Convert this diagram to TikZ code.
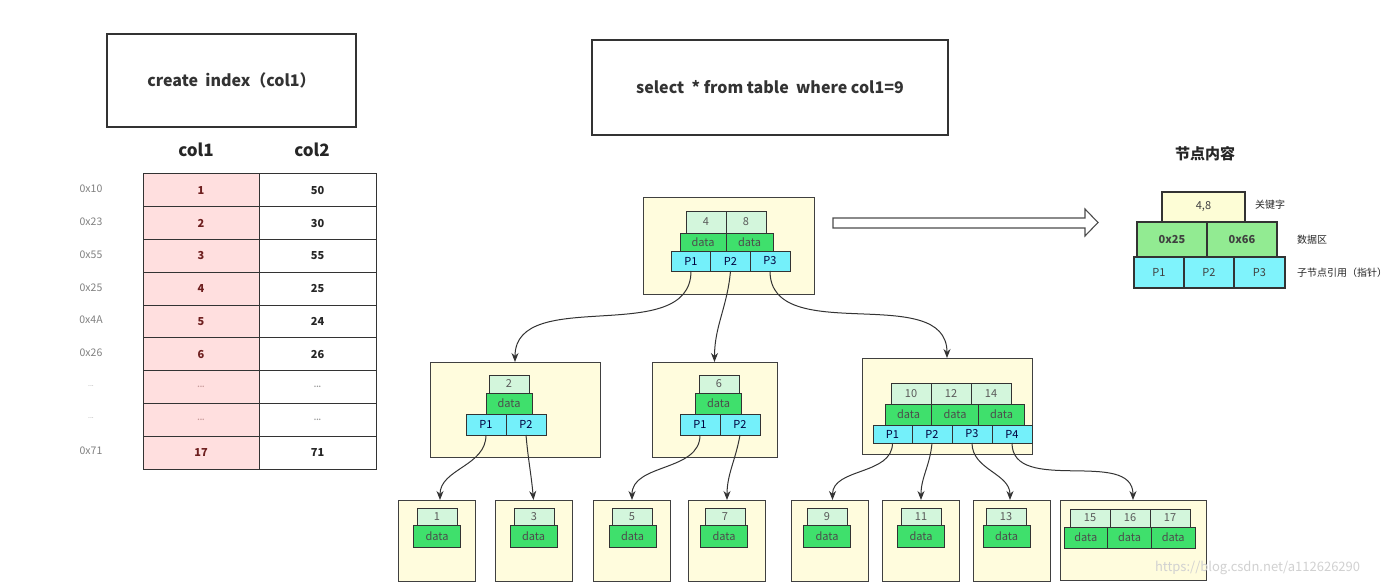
\documentclass[tikz,border=0pt]{standalone}
\usepackage{fontspec}
\setmainfont{Noto Sans CJK SC}
\usetikzlibrary{arrows.meta}
\definecolor{nodebg}{HTML}{FFFCDD}
\definecolor{keyg}{HTML}{D3F6DC}
\definecolor{datag}{HTML}{3FE06C}
\definecolor{ptrcy}{HTML}{74F0FA}
\definecolor{pinkc}{HTML}{FFDFDF}
\definecolor{redtxt}{HTML}{6E1F1F}
\definecolor{lgkey}{HTML}{FDFDD6}
\definecolor{lgdata}{HTML}{92EB92}
\definecolor{lgptr}{HTML}{7FF3FC}
\begin{document}
\begin{tikzpicture}[x=1pt,y=-1pt,
  every node/.style={inner sep=0pt, outer sep=0pt},
  sqlbox/.style={draw=black!80, line width=1.1pt, fill=white, text=black!80, font=\fontsize{16}{19}\selectfont\bfseries},
  hdr/.style={text=black!85, font=\fontsize{17}{20}\selectfont\bfseries},
  addr/.style={text=black!50, font=\fontsize{10.5}{12}\selectfont},
  tcell/.style={draw=black!80, line width=1pt, minimum height=32.8, font=\fontsize{11}{12}\selectfont\bfseries},
  tleft/.style={tcell, fill=pinkc, text=redtxt, minimum width=116},
  tright/.style={tcell, fill=white, text=black!85, minimum width=117},
  nodebox/.style={draw=black!75, line width=1pt, fill=nodebg},
  cell/.style={draw=black!80, line width=0.9pt, font=\fontsize{11}{12}\selectfont, text=black!65},
  keyc/.style={cell, fill=keyg, minimum width=40, minimum height=19},
  datac/.style={cell, fill=datag, minimum width=46, minimum height=21, text=black!70},
  ptrc/.style={cell, fill=ptrcy, minimum width=40, minimum height=20, text=black!60!blue!60!black},
  lcell/.style={draw=black!80, line width=1.1pt, font=\fontsize{11}{13}\selectfont, text=black!75},
  lnote/.style={anchor=west, text=black!85, font=\fontsize{10}{12}\selectfont},
  link/.style={draw=black!80, line width=1pt, -{Stealth[length=9pt,width=7pt]}}
]
\path[use as bounding box, fill=white] (0,0) rectangle (1398,588);

% SQL boxes
\node[sqlbox, minimum width=249, minimum height=93] (create) at (231.5,80.5) {create\ \ index（col1）};
\node[sqlbox, minimum width=356, minimum height=95] (select) at (770,87.5) {select\ \ * from table\ \ where col1=9};

% table headers
\node[hdr] (h1) at (196,150) {col1};
\node[hdr] (h2) at (312,150) {col2};

% table
\foreach \i/\a/\b/\ad in {0/1/50/0x10, 1/2/30/0x23, 2/3/55/0x55, 3/4/25/0x25, 4/5/24/0x4A, 5/6/26/0x26, 8/17/71/0x71}{
  \node[tleft] (l\i) at (201,{190.4+32.78*\i}) {\a};
  \node[tright] (r\i) at (317.5,{190.4+32.78*\i}) {\b};
  \node[addr] (a\i) at (91,{189+32.78*\i}) {\ad};
}
\foreach \i in {6,7}{
  \node[tleft, text=red!45!black!40] (l\i) at (201,{190.4+32.78*\i}) {\fontsize{7}{8}\selectfont ...};
  \node[tright, text=black!40] (r\i) at (317.5,{190.4+32.78*\i}) {\fontsize{7}{8}\selectfont ...};
  \node[addr, text=black!40] (a\i) at (91,{189+32.78*\i}) {\fontsize{7}{8}\selectfont ...};
}

% root node
\node[nodebox, minimum width=171, minimum height=96] (root) at (728.5,246) {};
\node[keyc, minimum height=22] (rk1) at (706,222) {4};
\node[keyc, minimum height=22] (rk2) at (746,222) {8};
\node[datac, minimum height=18] (rd1) at (703,242) {data};
\node[datac, minimum height=18, minimum width=47] (rd2) at (749.5,242) {data};
\node[ptrc] (rp1) at (691,261) {P1};
\node[ptrc] (rp2) at (730.5,261) {P2};
\node[ptrc] (rp3) at (770,261) {P3};

% level 2 left
\node[nodebox, minimum width=170, minimum height=95] (na) at (515,409.5) {};
\node[keyc, minimum height=18] (ak1) at (509,384) {2};
\node[datac] (ad1) at (509,403.5) {data};
\node[ptrc, minimum height=21] (ap1) at (486,424.5) {P1};
\node[ptrc, minimum height=21] (ap2) at (526,424.5) {P2};

% level 2 middle
\node[nodebox, minimum width=125, minimum height=95] (nb) at (714.5,409.5) {};
\node[keyc, minimum height=18] (bk1) at (719,384) {6};
\node[datac] (bd1) at (718.5,403.5) {data};
\node[ptrc, minimum height=21] (bp1) at (700,424.5) {P1};
\node[ptrc, minimum height=21] (bp2) at (740,424.5) {P2};

% level 2 right
\node[nodebox, minimum width=170, minimum height=96] (nc) at (947,406) {};
\node[keyc, minimum height=21] (ck1) at (911,393.5) {10};
\node[keyc, minimum height=21] (ck2) at (951,393.5) {12};
\node[keyc, minimum height=21] (ck3) at (991,393.5) {14};
\node[datac, minimum width=46.5] (cd1) at (908.5,414.5) {data};
\node[datac, minimum width=46.5] (cd2) at (955,414.5) {data};
\node[datac, minimum width=46.5] (cd3) at (1001.5,414.5) {data};
\node[ptrc, minimum height=18, minimum width=39] (cp1) at (892.5,434) {P1};
\node[ptrc, minimum height=18] (cp2) at (932,434) {P2};
\node[ptrc, minimum height=18] (cp3) at (972,434) {P3};
\node[ptrc, minimum height=18] (cp4) at (1012,434) {P4};

% leaves
\foreach \n/\bx/\kx/\dx/\t in {1/437/437/437/1, 2/533.5/534/533.5/3, 3/632/632/632.5/5, 4/727/725/724/7, 5/829.5/827/827/9, 6/921/921/921/11, 7/1012/1006/1006.5/13}{
  \node[nodebox, minimum width=77, minimum height=81] (leaf\n) at (\bx,540.5) {};
  \node[keyc, minimum height=17] (lk\n) at (\kx,516.5) {\t};
  \node[datac, minimum width=47, minimum height=22] (ld\n) at (\dx,536) {data};
}
\node[nodebox, minimum width=146, minimum height=80] (leaf8) at (1133,540) {};
\node[keyc, minimum height=18] (l8k1) at (1090,518) {15};
\node[keyc, minimum height=18] (l8k2) at (1130,518) {16};
\node[keyc, minimum height=18] (l8k3) at (1170,518) {17};
\node[datac, minimum width=43.7] (l8d1) at (1085.8,537.5) {data};
\node[datac, minimum width=43.7] (l8d2) at (1129.5,537.5) {data};
\node[datac, minimum width=43.7] (l8d3) at (1173.2,537.5) {data};

% connectors
\draw[link] (rp1.south) to[out=-90,in=90] (na.north);
\draw[link] (rp2.south) to[out=-95,in=90] (nb.north);
\draw[link] (rp3.south) to[out=-90,in=90] (nc.north);
\draw[link] (ap1.south) to[out=-90,in=90] ([xshift=3]leaf1.north);
\draw[link] (ap2.south) to[out=-85,in=95] (leaf2.north);
\draw[link] (bp1.south) to[out=-90,in=90] (leaf3.north);
\draw[link] (bp2.south) to[out=-100,in=90] (leaf4.north);
\draw[link] (cp1.south) to[out=-90,in=90] ([xshift=3]leaf5.north);
\draw[link] (cp2.south) to[out=-95,in=90] (leaf6.north);
\draw[link] (cp3.south) to[out=-90,in=90] ([xshift=-2]leaf7.north);
\draw[link] (cp4.south) to[out=-90,in=90] (leaf8.north);

% hollow arrow
\coordinate (ha) at (833,223);
\draw[draw=black!70, line width=1.1pt, fill=white, line join=miter]
  (833,218) -- (1085,218) -- (1085,209) -- (1098,222.5) -- (1085,236) -- (1085,228) -- (833,228) -- cycle;

% legend
\node[text=black!85, font=\fontsize{15}{18}\selectfont\bfseries] (lgt) at (1205,154) {节点内容};
\node[lcell, fill=lgkey, minimum width=83, minimum height=30] (lgk) at (1203.5,207) {4,8};
\node[lcell, fill=lgdata, minimum width=70, minimum height=35, font=\fontsize{11}{13}\selectfont\bfseries] (lgd1) at (1172,239.5) {0x25};
\node[lcell, fill=lgdata, minimum width=70, minimum height=35, font=\fontsize{11}{13}\selectfont\bfseries] (lgd2) at (1242,239.5) {0x66};
\node[lcell, fill=lgptr, minimum width=50, minimum height=31] (lgp1) at (1159,272.5) {P1};
\node[lcell, fill=lgptr, minimum width=50, minimum height=31] (lgp2) at (1209,272.5) {P2};
\node[lcell, fill=lgptr, minimum width=51, minimum height=31] (lgp3) at (1259.5,272.5) {P3};
\node[lnote] (n1) at (1255,205) {关键字};
\node[lnote] (n2) at (1297,240) {数据区};
\node[lnote] (n3) at (1297,273) {子节点引用（指针）};

% watermark
\node[anchor=west, text=black!18, font=\fontsize{13}{15}\selectfont] (wm) at (1155,568) {https://blog.csdn.net/a112626290};
\end{tikzpicture}
\end{document}
